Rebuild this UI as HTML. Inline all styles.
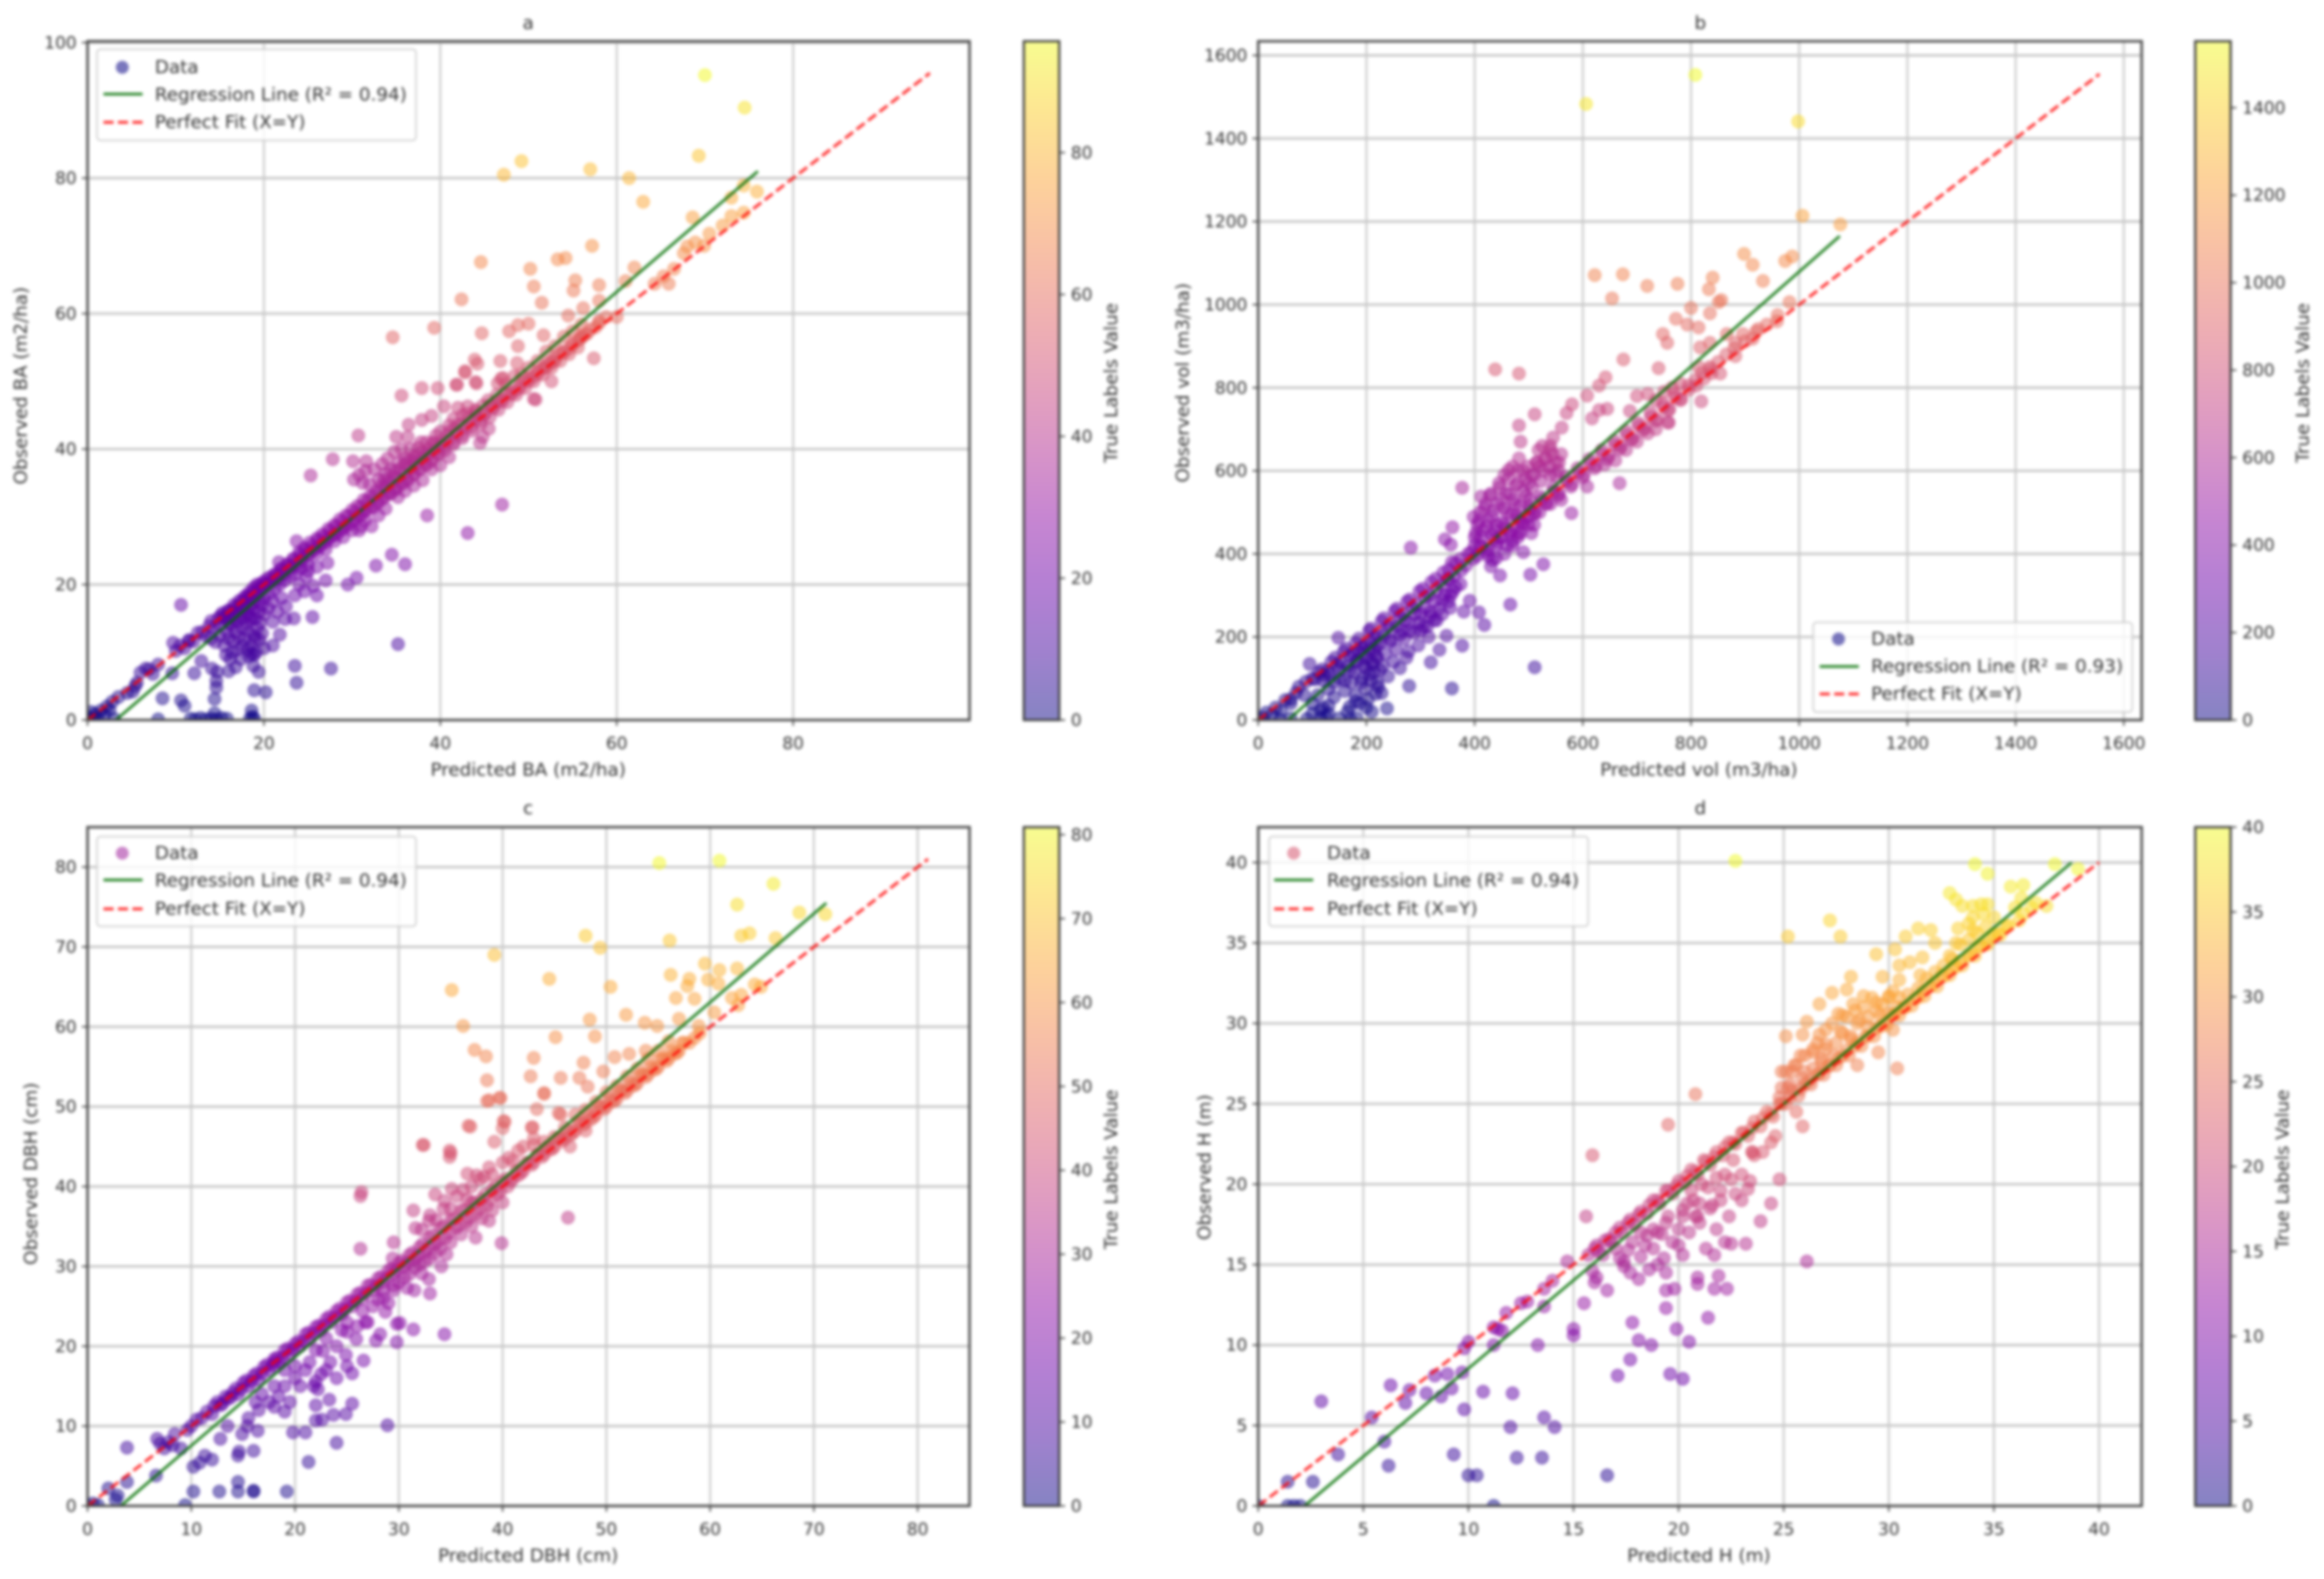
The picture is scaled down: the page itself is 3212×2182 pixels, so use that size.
<!DOCTYPE html>
<html lang="en">
<head>
<meta charset="utf-8">
<title>Predicted vs observed forest metrics</title>
<style>
html,body{margin:0;padding:0;background:#fff;}
#figure{display:block;width:3212px;height:2182px;filter:blur(2.1px);font-family:"DejaVu Sans","Liberation Sans",sans-serif;}
text{font-family:"DejaVu Sans","Liberation Sans",sans-serif;font-size:25.3px;fill:#333;}
text.tick{font-size:23.5px;}
.leg{fill:#fff;fill-opacity:.8;stroke:#ccc;stroke-width:2;}
.reg{stroke:#006f00;stroke-opacity:.85;stroke-width:3.8;fill:none;}
.fit{stroke:#f00;stroke-opacity:.8;stroke-width:4;stroke-dasharray:14 6;fill:none;}
</style>
</head>
<body>
<svg id="figure" xmlns="http://www.w3.org/2000/svg" width="3212" height="2182" viewBox="0 0 3212 2182">
<rect x="0" y="0" width="3212" height="2182" fill="#fff"/>
<defs id="defs"></defs>
<g id="panel-a"></g>
<g id="panel-b"></g>
<g id="panel-c"></g>
<g id="panel-d"></g>

<g text-anchor="middle">
<text x="730" y="40">a</text>
<text x="2350" y="40">b</text>
<text x="730" y="1125">c</text>
<text x="2350" y="1125">d</text>
<text x="730" y="1072">Predicted BA (m2/ha)</text>
<text x="2348" y="1072">Predicted vol (m3/ha)</text>
<text x="730" y="2158">Predicted DBH (cm)</text>
<text x="2348" y="2158">Predicted H (m)</text>
<text transform="translate(37 533) rotate(-90)">Observed BA (m2/ha)</text>
<text transform="translate(1643 529) rotate(-90)">Observed vol (m3/ha)</text>
<text transform="translate(51 1622) rotate(-90)">Observed DBH (cm)</text>
<text transform="translate(1673 1613) rotate(-90)">Observed H (m)</text>
<text transform="translate(1544 529) rotate(-90)">True Labels Value</text>
<text transform="translate(3191 529) rotate(-90)">True Labels Value</text>
<text transform="translate(1544 1616) rotate(-90)">True Labels Value</text>
<text transform="translate(3163 1616) rotate(-90)">True Labels Value</text>
</g>

<g>
<rect class="leg" x="134" y="68" width="441" height="126" rx="5"/>
<circle cx="169" cy="93" r="9" fill="#0d0887" fill-opacity=".55"/>
<text x="214" y="101">Data</text>
<line class="reg" x1="143" x2="197" y1="130" y2="130"/>
<text x="214" y="139">Regression Line (R² = 0.94)</text>
<line class="fit" x1="143" x2="197" y1="169" y2="169"/>
<text x="214" y="177">Perfect Fit (X=Y)</text>
</g>
<g>
<rect class="leg" x="2506" y="860" width="441" height="124" rx="5"/>
<circle cx="2541" cy="883" r="9" fill="#0d0887" fill-opacity=".55"/>
<text x="2586" y="891">Data</text>
<line class="reg" x1="2515" x2="2569" y1="921" y2="921"/>
<text x="2586" y="929">Regression Line (R² = 0.93)</text>
<line class="fit" x1="2515" x2="2569" y1="959" y2="959"/>
<text x="2586" y="967">Perfect Fit (X=Y)</text>
</g>
<g>
<rect class="leg" x="134" y="1156" width="441" height="124" rx="5"/>
<circle cx="169" cy="1179" r="9" fill="#a0229c" fill-opacity=".55"/>
<text x="214" y="1187">Data</text>
<line class="reg" x1="143" x2="197" y1="1216" y2="1216"/>
<text x="214" y="1225">Regression Line (R² = 0.94)</text>
<line class="fit" x1="143" x2="197" y1="1256" y2="1256"/>
<text x="214" y="1264">Perfect Fit (X=Y)</text>
</g>
<g>
<rect class="leg" x="1754" y="1156" width="441" height="124" rx="5"/>
<circle cx="1788" cy="1179" r="9" fill="#d6566f" fill-opacity=".55"/>
<text x="1834" y="1187">Data</text>
<line class="reg" x1="1761" x2="1815" y1="1216" y2="1216"/>
<text x="1834" y="1225">Regression Line (R² = 0.94)</text>
<line class="fit" x1="1761" x2="1815" y1="1256" y2="1256"/>
<text x="1834" y="1264">Perfect Fit (X=Y)</text>
</g>
</svg>

<script>
// ---------- chart data ----------
const xTicksA=[0,20,40,60,80];
const yTicksA=[0,20,40,60,80,100];
const barTicksA=[0,20,40,60,80];
const regressionA=[[3.2,0],[76,81]];
const perfectA=[[0,0],[95.5,95.5]];
const pointsA=[
[0,0],[.3,.4],[.6,.1],[.9,.9],[1.2,.3],[1.5,1.4],[1.9,.8],[2.2,2],[2.5,1.5],[2.8,2.7],[.4,1.2],[3,.2],
[8,.1],[11.7,.2],[12.2,.1],[12.8,.3],[13.4,.1],[14,.2],[14.6,.1],[15.2,.3],[15.8,.2],[18.4,.2],[18.7,.5],[18.6,1.4],[18.9,.2],[14.4,1],
[8.5,3.2],[10.6,2.9],[11,2.1],[14.4,3.1],[18.9,4.4],[20.2,4.1],[14.6,4.8],[23.7,5.5],[23.5,8],[27.6,7.6],[35.2,11.2],[19.4,7.1],[14.6,5.8],[12.1,6.9],[9.6,6.9],[12.9,8.7],[14.1,7.6],[14.7,7.1],[16,7.2],[16.8,7.8],[17.4,9],[18.3,9.4],[18.9,9.6],[10.6,17],[9.7,11.4],[11.5,11.8],[6.6,7.6],[7.4,6.8],[5.6,5.5],[5.1,4.2],[3.5,3.4],[4.5,4],[6,7],[5.4,5],[7,7.5],[8,8.2],
[25.5,15.2],[26,18.4],[22.4,14.9],[23.4,15],[21.8,12.6],[21,11],[23.5,18.4],[27,20.6],[29.5,20],[30.5,21],[32.7,22.8],[34.5,24.4],[36,23],[38.5,30.2],[43.1,27.6],[47,31.8],[27.2,23.2],[24.8,21.2],[23.7,26.4],[21.7,23.3],[25,22],[26,22.6],[24,20],[25.6,19.8],[24.6,19],
[10,10.2],[10.5,11],[11,10.6],[11.5,11.7],[12,11.6],[12.5,12.9],[13,13],[13.4,12.4],[13.8,13.9],[14,14.6],[14.4,13.7],[14.8,15],[15,14.2],[15.3,15.8],[15.6,15],[16,16.2],[16.2,15.2],[16.6,17],[16.9,16],[17.2,17.6],[17.4,16.6],[17.8,18.2],[18,17],[18.3,18.8],[18.5,17.9],[18.8,19.5],[19,18.3],[19.2,20],[19.5,19],[19.8,20.3],[20,19.6],[20.3,20.8],
[14,12],[14.5,11.5],[15,12.5],[15.5,11],[15.8,13],[16,12],[16.3,14],[16.5,11.6],[16.8,13],[17,14.5],[17.2,12.3],[17.5,15],[17.6,13.6],[17.8,12],[18,14.2],[18.2,15.6],[18.3,13],[18.5,11],[18.6,14.8],[18.8,16.4],[18.9,12.5],[19,15],[19.1,10],[19.2,13.6],[19.4,16],[19.5,11.8],[19.6,14.4],[19.7,17],[19.8,12.8],[20,15.6],[20,10.6],[20.5,16.5],[21,14.5],[21,17.5],[21.5,16],[22,18],[22.5,16.8],
[20.8,20.4],[21.2,21.5],[21.5,20.8],[21.9,22.3],[22.2,21.5],[22.6,23],[23,22.4],[23.3,23.8],[23.6,22.8],[24,24.8],[24.2,23.5],[24.6,25.4],[25,24.2],[25.2,26.2],[25.6,25],[26,26.8],[26.3,25.6],[26.6,27.4],[27,26.2],[27.3,28.2],[27.6,27],[28,28.8],[28.3,27.4],[28.6,29.6],[29,28.2],[29.3,30.2],[29.6,28.8],[30,31],[30.3,29.6],[30.6,31.6],[31,30.2],[31.3,32.5],[31.6,31],[32,33],[32.4,31.4],[32.7,33.8],[33,32.2],[33.4,34.6],[33.7,33],[34,35.2],[34.4,33.4],[34.7,36],[35,34.2],[35.3,37],[35.7,35],[36,37.6],[36.3,35.4],[36.6,38.4],[37,36.2],[37.3,39],[37.6,37],[38,39.6],[38.4,37.6],[38.7,40],[39,38.2],[39.3,40.8],[39.7,39.4],[40,41],[40.4,40.4],[41,42.6],[41.5,41],[42,43.6],[42.5,42],[43,45.2],[43.5,43.2],[44,45.8],[44.5,44.2],[45,45],[45.5,43],[44.8,41.8],[45.4,47.2],[46,46],[46.5,47],[47,47],[47.5,48.2],[48,48],[48.5,48.6],[49,49],[49.5,50],[50,50],[50.5,50.6],[51,51],[51.5,51.8],[52,52],[52.5,52.8],[53,53],[53.5,54],[54,54.2],[54.6,54.8],[55,55.4],[55.6,56],[56,56.6],[56.6,57],[57,57.6],[57.6,58],[58,58.6],
[25.3,36.1],[27.8,38.5],[30.1,38.2],[31.6,38.2],[30.7,42],[30.2,35.5],[30.8,36.2],[31.2,35],[31.5,36.8],[32,34.8],[32.5,37],[33,35.5],[33.4,37.8],[33.8,36.4],[34,38.6],[34.4,37],[34.8,39.6],[35,41.8],[35.3,38],[35.6,40],[36.3,41.8],[36.4,43.6],[36,38.6],[36.6,40],[37,39],[37.5,40.2],[37.9,44.3],[38.4,41],[39,44.9],[39.5,42],[40.4,46.3],[41,43.5],[42,46.1],[43.1,46.3],[41.5,44.5],[42.5,45],[44,45.5],[35.6,47.9],[37.9,49],[39.7,49],[41.9,49.5],[44,49.9],[42.8,51.5],[46.9,50.4],[44.5,40.9],[50.8,47.3],
[32.2,28.6],[30.8,28],[33.8,31.2],[35.2,32.9],[33,30.2],[31.5,29.5],[36,33.8],[37,34.6],[38,35.4],[39,37],[40,37.6],[41,38.8],
[70,95.2],[74.5,90.4],[69.3,83.3],[49.2,82.5],[47.2,80.5],[57,81.3],[61.4,80],[63,76.5],[75.9,78],[74.4,78.9],[73,77.1],[68.6,74.2],[74.4,74.9],[73,74.4],[72,73],[70.5,71.8],[68.9,70.5],[69.9,70],[68,69.9],[67.6,68.9],[57.2,70],[54.2,68.2],[53.3,68],[44.6,67.6],[50.2,66.6],[62,66.8],[61,64.8],[66.5,66.6],[65.3,65.5],[64.3,64.4],[65.9,64.4],[55.3,64.9],[55.1,63.4],[50.6,64],[58,64.2],[42.4,62.1],[51.5,61.6],[58,61.9],[56.2,60.8],[54.5,59.7],[60,59.5],[58.8,59.5],[58,58.9],[50,58.5],[48.8,58.3],[47.8,57.4],[39.3,57.9],[44.7,57.1],[51.7,56.8],[34.6,56.5],[56.4,56.9],[55.8,56.3],[48.8,55.2],[57.4,53.4],[43.9,53.2],[46.8,53],[44.2,52.6],[48.7,52.7],[52.6,52.7],[51.8,52],[42.8,51.3],[47.1,50.5],[46.5,49.7],[41.8,49.5],[44.1,49.7],[52.6,50],[50.6,47.4]
];
const bandA=[
[15.1,15.4],[15.5,15.2],[15.9,16.1],[16.3,16],[16.7,16.6],[17.1,16.9],[17.5,17.6],[17.9,17.7],[18.1,18.3],[18.4,18.1],[18.7,18.9],[19.1,19],[19.4,19.8],[19.7,19.5],[20.1,20.3],[20.4,20.1],[20.7,21.1],[21,20.7],[21.4,21.6],[21.7,21.4],[22,22.3],[22.3,22],[22.7,22.9],[23,22.7],[23.4,23.7],[23.7,23.4],[24.1,24.4],[24.4,24],[24.7,25.1],[25.1,24.7],[25.4,25.7],[25.8,25.3],[26.1,26.5],[26.5,26],[26.8,27.1],[27.2,26.7],[27.5,27.9],[27.9,27.4],[28.2,28.6],[28.6,28],[28.9,29.3],[29.3,28.7],[29.6,30.1],[30,29.4],[30.3,30.7],[30.7,30.1],[31,31.5],[31.4,30.8],[31.7,32.3],[32.1,31.4],[32.4,33],[32.8,32],[33.1,33.7],[33.5,32.7],[33.8,34.4],[34.2,33.4],[34.5,35],[34.9,34],[35.2,35.7],[35.6,34.8],[35.9,36.4],[36.3,35.6],[36.6,37.2],[37,36.4],[37.3,37.9],[37.7,37],[38,38.6],[38.4,37.8],[38.7,39.2],[39.1,38.6],[39.4,39.9],[39.8,39.2],[40.1,40.5],[40.5,39.8],[41,41.3],[41.5,40.7],[42,42.3],[42.5,41.6],[43,43.3],[43.6,42.7],[44,44.4],[44.6,43.7],[45,45.3],[45.6,44.7],[46,46.3],[46.6,45.8],[47,47.3],[47.6,46.9],[48,48.3],[48.6,48],[49,49.3],[49.6,49],[50,50.4],[50.6,50],[51,51.4],[51.6,51],[52,52.4],[52.6,52],[53,53.4],[53.6,53],[54,54.4],[54.6,54],[55,55.4],[55.6,55],[56,56.4],
[16,14.2],[16.6,14.8],[17.2,15.6],[17.7,16.2],[18.3,16.6],[18.8,17.2],[19.4,17.6],[20,18],[20.6,18.6],[21.2,19.4],[21.8,20],[22.4,20.6],[23,21.2],[23.6,21.6],[24.2,22.4],[25,23],[26,24.6],[27,25.2],[28,26.4],[29,27],[30,28],[31,28.6],[17.6,11],[18.2,10.4],[18.6,9.8],[18.8,8],[19,12],[18.4,15.2],[16.4,10],[15.7,9.6],[17,10.4],[16.2,9],
[33.6,35.5],[34.8,36.8],[36,38],[37,38.2],[37.8,41],[38.4,39.2],[39.2,41],[40,42.6],[40.8,42],[41.6,43],[42.4,43.6],[43.2,44.6],[44,45],[44.8,46.4],[45.6,46.5],[46.4,48],[47.4,49.6],[48.4,50.8],[49.2,51],[50,52],[51,53],[52,54.4],[53,55.2],[54,56.6],[55,57.4],[56,58.4]
];

const xTicksB=[0,200,400,600,800,1000,1200,1400,1600];
const yTicksB=[0,200,400,600,800,1000,1200,1400,1600];
const barTicksB=[0,200,400,600,800,1000,1200,1400];
const regressionB=[[55,0],[1075,1165]];
const perfectB=[[0,0],[1555,1555]];
const pointsB=[
[0,0],[8,6],[15,18],[25,12],[32,30],[42,22],[50,48],[60,40],[70,66],[85,60],[95,135],[40,2],[60,4],[90,3],[115,5],[125,8],[150,4],[170,2],[182,5],[100,40],[115,24],[130,35],[110,60],[140,55],[169,32],[217,63],[238,28],[279,82],[358,76],[511,127],[319,139],[335,169],[377,179],[348,203],[274,150],[148,198],[130,110],
[100,100],[112,115],[122,108],[135,140],[146,132],[158,165],[170,155],[180,185],[192,175],[205,215],[215,200],[228,238],[240,225],[252,262],[262,250],[275,285],[285,270],[298,310],[308,296],[320,332],[330,315],[342,355],[352,338],[365,378],[375,360],[388,400],[398,388],[410,420],[420,405],[432,445],[442,428],[455,470],[465,450],[478,492],[488,472],[500,515],[510,496],[522,538],[532,520],[545,560],[555,540],[568,585],[578,562],[590,606],[600,584],[612,628],[622,606],[635,650],[645,628],[658,672],[668,652],[680,695],[690,675],[702,715],[712,698],[725,740],[735,720],[748,762],[758,745],[770,785],[780,770],[795,805],[808,818],[820,835],[835,850],[850,862],[865,880],[880,895],[900,912],[920,935],[940,952],[960,975],
[150,100],[160,70],[165,130],[172,90],[178,115],[180,60],[185,145],[188,40],[192,100],[195,160],[198,75],[200,125],[203,50],[205,170],[208,95],[210,140],[214,115],[218,155],[222,80],[225,185],[230,130],[235,160],[240,105],[245,190],[250,140],[255,170],[262,125],[270,195],[278,165],[288,210],[296,180],[305,225],[315,200],[325,240],[318,260],[300,255],[280,235],[265,215],[358,380],[350,340],[365,320],[340,290],[374,327],[356,301],[391,287],[380,261],[408,259],[418,229],[466,278],[433,385],[447,348],[503,350],[527,375],[490,404],
[282,415],[359,464],[345,435],[356,422],[377,559],[412,538],[398,489],[463,602],[579,498],[668,570],[608,562],
[400,440],[405,470],[410,500],[415,455],[420,520],[425,480],[430,545],[435,505],[440,470],[445,570],[450,530],[455,590],[460,500],[465,545],[470,610],[475,520],[480,570],[485,480],[490,600],[495,540],[500,570],[505,590],[440,420],[425,395],[450,440],[470,430],[480,450],[520,610],[530,630],[540,650],[550,620],[540,590],[560,640],[525,660],[515,620],[545,680],[555,600],[505,450],
[511,736],[482,709],[485,670],[482,630],[540,660],[561,704],[570,739],[580,760],[608,781],[630,805],[642,825],[438,844],[482,834],[645,749],[630,746],[617,726],[687,744],[759,716],[675,868],[740,847],[700,780],[720,785],[735,770],[750,790],[765,800],[780,810],
[808,1553],[606,1483],[998,1441],[1006,1214],[1076,1193],[898,1122],[914,1096],[987,1116],[974,1105],[933,1057],[840,1065],[833,1037],[775,1050],[719,1045],[674,1073],[622,1071],[654,1015],[856,1011],[851,1006],[800,992],[835,979],[982,1006],[772,966],[793,952],[814,945],[959,960],[748,929],[756,908],[924,941],[896,929],[866,929],[914,918],[882,908],[817,897],[835,908],[814,850],[835,844],[854,834],[882,876],[819,767]
];
const bandB=[
[60,50],[75,80],[88,92],[105,98],[118,122],[128,118],[142,150],[152,140],[162,172],[175,160],[186,196],[198,180],[208,220],[220,205],[232,245],[244,230],[256,268],[268,255],[280,290],[292,278],[304,316],[316,300],[328,340],[340,325],[352,362],[362,348],[374,388],[384,372],[394,405],[404,395],[414,418],[424,412],[436,436],[446,440],[458,462],[468,455],[480,484],[490,476],[502,506],[512,500],[524,530],[534,522],[546,550],[556,545],[570,575],[580,568],[592,596],[602,590],[614,618],[624,612],[636,640],[648,635],[660,662],[670,658],[682,686],[692,678],[704,708],[714,702],[726,730],[738,724],[750,754],[760,748],[772,776],[782,772],[796,795],[810,805],[824,822],[838,835],
[220,180],[232,205],[244,195],[256,225],[262,205],[272,240],[280,215],[290,255],[298,235],[308,270],[318,250],[326,285],[334,268],[345,300],[352,285],[360,310],[300,215],[312,225],[330,240],[340,255],[355,270],[200,150],[205,110],[208,185],[212,135],[215,170],[220,90],[220,150],[225,120],[228,65],[195,130],[190,90],[185,165],[180,140],[170,120],[160,95],[150,120],[140,90],[130,75],[120,95],[180,45],[200,30],[210,20],[165,20],[130,15],[100,15],[120,30],
[400,420],[402,450],[408,480],[412,440],[418,510],[422,465],[428,540],[432,490],[438,455],[442,520],[446,560],[450,475],[454,510],[458,545],[462,580],[468,495],[472,530],[476,565],[480,600],[484,515],[490,550],[494,580],[498,610],[502,530],[506,560],[510,590],[514,620],[518,650],[522,575],[528,600],[532,630],[538,610],[544,640],[550,590],[556,620],[480,440],[460,420],[500,490],
[430,370],[440,390],[455,400],[470,420],[485,450],[500,470],[520,500],[540,520],[560,530],[510,470],[640,615],[660,625],[680,650],[700,670],[720,690],[735,700],[757,716]
];

const xTicksC=[0,10,20,30,40,50,60,70,80];
const yTicksC=[0,10,20,30,40,50,60,70,80];
const barTicksC=[0,10,20,30,40,50,60,70,80];
const regressionC=[[3.2,0],[71.2,75.5]];
const perfectC=[[0,0],[81,81]];
const pointsC=[
[0,0],[.5,.3],[1,.1],[2,2.2],[2.7,.8],[2.9,1.3],[3.8,3],[3.8,7.3],[6.7,8.4],[6.6,3.8],[7,7.8],[7.4,7.2],[7.8,8],[8.2,7.6],[8.4,9],[9,7.2],[9.6,9.5],[10,10],[9.4,.1],[10.2,1.8],[12.7,1.8],[14.5,1.8],[14.5,3],[16,1.8],[16,1.9],[19.2,1.8],[10.2,4.9],[11.3,6.3],[12,5.8],[14.5,6.3],[16,6.9],[21.3,5.5],[24,7.9],[28.9,10.1],[10.8,5.4],[14.6,6.8],[12.8,8.4],[13.5,10],[14.9,9],[15.4,10],[16.4,9.4],[19.8,9.2],[21,9.2],[22,10.7],[22.6,10.8],[23.7,11.4],[24.9,11.5],[25.5,12.8],[23.3,13.3],[22,12.6],[18.4,13.7],[19.5,13],[16.2,13],[16.5,12],[18,12.4],[19,11.8],[15.5,11],[20,16],[21.8,15],[22,15.6],[22.2,14.6],[24,16],[25,17.5],[26.6,18.2],[25.5,16.6],[24.9,18.9],[22.7,19.4],[23.4,18],[21.4,18],[19,17],[20,17.5],[18,18],
[34.4,21.5],[31.4,22.1],[29.8,22.8],[28.7,24.3],[29.8,20.5],[27.8,20.7],[28.2,21.5],[30.1,22.9],[26.8,23],[25,21.8],[25.9,20.9],
[10.5,10.8],[11,11],[11.5,11.8],[12,11.5],[12.5,13],[13,12.8],[13.5,13.4],[14,14.2],[14.5,14],[15,15.4],[15.5,15],[16,16.3],[16.5,15.8],[17,17.4],[17.5,17],[18,18.4],[18.5,18],[19,19.5],[19.5,19],[20,20.3],[20.5,20],[21,21.5],[21.5,21],[22,22.4],[22.5,22],[23,23.4],[23.5,23],[24,24.4],[24.5,24],[25,25.5],[25.5,25],[26,26.5],[26.5,26],[27,27.6],[27.5,27],[28,28.5],[28.5,28],[29,29.5],[29.5,29.2],[30,30.4],[30.5,30],[31,31.4],[31.5,30.8],[32,32.4],[32.5,31.8],[33,33.6],[33.5,32.8],[34,34.8],[34.5,33.6],[35,35.8],[35.5,34.8],[36,37],[36.5,35.6],[37,38],[37.5,36.6],[38,38.4],[38.5,37.6],[39,39.6],[39.5,39],[40,40.6],[40.5,40],[41,41],[41.5,41.4],[42,42],[42.5,43],[43,43],[43.5,44],[44,44],[44.5,44.6],[45,45],[45.5,46],[46,46],[46.5,46.4],[47,47],[47.5,48],[48,48],[48.5,48.4],[49,49],[49.5,50],[50,50],[50.5,50.6],[51,51],[51.5,52],[52,52],[52.5,52.6],[53,53],[53.5,54],[54,54],[54.5,54.6],[55,55],[55.5,56],[56,56],[56.5,56.6],[57,57],[57.5,58],[58,58],[58.5,58.6],[59,59.2],
[30.8,27.3],[32.9,28.4],[32.2,29.1],[34.1,30],[34.6,31.5],[38.7,35.7],[33,26.6],[31.5,27],[28.5,27],[29.5,27],[37.4,33.6],[39.9,32.9],[26.3,32.2],[29.5,33],[29.4,31],[31.6,34.8],[31.4,37],[33.5,39],[35.1,39.7],[32.9,35.7],[34.3,37.2],[36.6,38.4],[36.6,41.6],[37.8,40.9],[38.7,42.4],[40.6,43.6],[41.5,44.5],[39.2,45.6],[42.9,47.4],[40.2,48.1],[36.9,47.5],[32.3,45.2],[35,44.2],[38.7,50.8],[39.8,51.1],[44,51.7],[43.3,49.7],[45.4,49.2],[26.4,39.3],[26.3,38.8],[46.3,36.1],[48,47],[46.5,45],
[55.1,80.5],[60.9,80.8],[66.1,77.9],[62.6,75.3],[68.6,74.3],[71.1,74.1],[48,71.4],[49.4,69.9],[39.2,69],[56.1,70.8],[63,71.4],[63.8,71.7],[66.3,71.1],[35.1,64.6],[44.5,66],[50.4,65],[59.5,67.9],[60.9,67.1],[62.6,67.3],[56.2,66.5],[58,66],[57.8,65.1],[59.8,65.9],[60.8,65.4],[56.7,63.6],[58.5,63.5],[64.3,65.3],[64.9,65],[62.1,63.6],[63,64],[62.7,62.7],[60.4,61.8],[48.4,60.9],[51.9,61.5],[53.7,60.5],[54.9,60.1],[57,61],[36.2,60.1],[48.9,58.8],[45.1,58.7],[58.9,60.1],[37.3,57.1],[38.4,56.3],[43,56.1],[47.8,55.5],[50.8,56.2],[52.2,56.6],[53.8,57],[38.5,53.3],[42.7,53.8],[45.6,53.6],[47.4,53.6],[49.7,54.4],[48.2,52.5],[44,51.6],[38.5,50.7],[39.7,51.1],[45.6,49],[40.1,48.2],[40,47.3],[36.7,47.6],[42.8,47.4],[32.4,45.2],[34.9,44.5],[34.9,43.7],[43,46]
];
const bandC=[
[12.2,12.5],[12.8,12.6],[13.3,13.7],[13.8,13.6],[14.3,14.7],[14.8,14.6],[15.3,15.7],[15.8,15.6],[16.3,16.6],[16.8,16.6],[17.3,17.7],[17.8,17.6],[18.3,18.6],[18.8,18.6],[19.3,19.7],[19.8,19.6],[20.3,20.6],[20.8,20.6],[21.3,21.7],[21.8,21.6],[22.3,22.6],[22.8,22.6],[23.3,23.7],[23.8,23.6],[24.3,24.7],[24.8,24.6],[25.3,25.7],[25.8,25.6],[26.3,26.7],[26.8,26.6],[27.3,27.7],[27.8,27.5],[28.3,28.7],[28.8,28.5],[29.3,29.7],[29.8,29.5],[30.3,30.7],[30.8,30.4],[31.3,31.7],[31.8,31.3],[32.3,32.8],[32.8,32.2],[33.3,33.9],[33.8,33.1],[34.3,35],[34.8,34.2],[35.3,36],[35.8,35.1],[36.3,37],[36.8,36.1],[37.3,38],[37.8,37.2],[38.3,39],[38.8,38.4],[39.3,40],[39.8,39.4],[40.3,41],[40.8,40.6],[41.3,42],[41.8,41.7],[42.3,43],[42.8,42.7],[43.3,44],[43.8,43.7],[44.3,45],[44.8,44.7],[45.3,46],[45.8,45.7],[46.3,47],[46.8,46.7],[47.3,48],[47.8,47.7],[48.3,49],[48.8,48.7],[49.3,50],[49.8,49.7],[50.3,51],[50.8,50.7],[51.3,52],[51.8,51.7],[52.3,53],[52.8,52.7],[53.3,54],[53.8,53.7],[54.3,55],[54.8,54.7],[55.3,56],[55.8,55.7],[56.3,57],[56.8,56.7],[57.3,58],
[22,19.5],[23,21],[24,20],[24.5,22],[25,23],[26,22.5],[26.5,24.4],[27,23],[27.5,25],[28,25.8],[28.5,26],[29,25.4],[29.5,27.6],[30,28],[30.5,28.6],[31,29],[31.5,29.8],[32,30.2],[32.5,30.6],[33,31],[33.5,31.6],[34,32.2],[35,33],[36,34],[37,35],[38,36],[39,37],[40,38],[21,17],[20.5,15],[23,17],[22.5,16.5],[18,15],[17.5,13],[16.8,14],[19,15],
[32.2,34.6],[33,36.4],[33.6,35.8],[34.4,38.2],[35,37.2],[35.6,38.8],[36.2,39.6],[37,40],[37.5,41.4],[38.2,41.2],[39,41.5],[40,43],[41,43.2],[42,45],[43,45.2],[44,45.6],[45,46.2],[46,47.4],[47,49],[48,49.6],[49,50.6],[50,51.8],[51,52.6],[52,53.8],[53,54.8],[54,56],[55,57],[56,58.2]
];

const xTicksD=[0,5,10,15,20,25,30,35,40];
const yTicksD=[0,5,10,15,20,25,30,35,40];
const barTicksD=[0,5,10,15,20,25,30,35,40];
const regressionD=[[2.2,0],[38.7,40]];
const perfectD=[[0,0],[40,40]];
const pointsD=[
[0,0],[1.4,0],[1.7,0],[2,0],[1.4,1.5],[2.6,1.5],[3.8,3.2],[3,6.5],[5.4,5.5],[6,4],[6.2,2.5],[6.3,7.5],[7,6.4],[7.2,7.2],[8,7],[8.7,6.8],[9.2,7.3],[9.7,8.3],[9,8.2],[8.4,8.1],[9.8,6],[10.7,7.1],[12.1,7],[12,4.9],[13.6,5.5],[14.1,4.9],[12.3,3],[13.5,3],[16.6,1.9],[10,1.9],[10.4,1.9],[9.3,3.2],[11.2,0],
[11.2,10],[9.8,9.8],[10,10.2],[11.4,11],[11.2,11.1],[11.6,10.9],[11.8,12],[12.5,12.6],[12.8,12.7],[13.6,12.4],[14,14],[13.6,13.5],[14.7,15.2],[13.3,10],[15,11],[15,10.6],[15.5,12.6],
[17.4,14.9],[17.7,14.5],[18.1,14.1],[16.6,13.4],[16,13.9],[15.9,14.6],[16.1,14.2],[19.4,14.5],[19.8,13.5],[19.4,13.4],[19.4,12.3],[21.4,11.7],[19.9,11],[20.5,10.2],[18.7,10],[18.1,10.3],[17.8,11.4],[17.7,9.1],[17.1,8.1],[19.6,8.2],[20.2,7.9],[21.9,14.3],[22.3,13.5],[21.7,13.5],[20.9,14.2],[20.9,13.8],
[15.7,15.6],[16,16],[16.2,15.8],[16.5,16.5],[16.8,16.4],[17,17],[17.3,17],[17.6,17.6],[17.9,17.5],[18.2,18.3],[18.5,18.2],[18.8,19],[19.1,18.8],[19.4,19.6],[19.7,19.4],[20,20.2],[20.3,20.1],[20.6,20.9],[20.9,20.6],[21.2,21.5],[21.5,21.2],[21.8,22],[22.1,21.8],[22.4,22.6],[22.7,22.5],[23,23.2],[23.3,23],[23.6,23.9],[23.9,23.6],[24.2,24.5],[24.5,24.2],[24.8,25],[25.1,25],[25.4,25.8],[25.7,25.5],[26,26.2],[26.3,26.2],[26.6,26.8],[26.9,26.8],[27.2,27.4],[27.5,27.4],[27.8,28],[28.1,28],[28.4,28.6],[28.7,28.6],[29,29.2],[29.3,29.2],[29.6,29.8],[29.9,29.9],[30.2,30.5],[30.5,30.5],[30.8,31],[31.1,31.1],[31.4,31.6],[31.7,31.7],[32,32.3],[32.3,32.3],[32.6,32.9],[32.9,33],[33.2,33.5],[33.5,33.6],[33.8,34.2],[34.1,34.2],[34.4,34.8],[34.7,34.9],[35,35.5],[35.3,35.5],[35.6,36],[36.2,36.4],[36.8,37.2],
[17,16],[17.2,15.4],[17.8,16.4],[18.2,15.5],[18.5,16.8],[18.8,16],[19,17],[19.3,15.4],[19.5,18],[19.7,16.4],[20,17.2],[20.2,15.6],[20.2,18.4],[20.5,17],[20.7,19],[21,17.6],[21.3,16],[21.5,18.5],[21.8,17.2],[22,19],[22.2,16.4],[22.4,18],[22.7,19.4],[23,19],[23.4,20.2],[23.5,22],[23.6,21.8],[24,22],[24.4,22.6],[24.6,23],[22.5,16.3],[23.2,16.3],[23.9,17.7],[24.4,18.8],[24.8,20.3],[21.7,15.6],[20.8,18],[19,15],[18.6,14.7],
[15.9,21.8],[19.5,23.7],[20.8,25.6],[25.9,23.6],[25.6,24.5],[15.6,18],[26.1,15.2],[22.7,40.1],[25.2,35.4],[27.2,36.4],[27.7,35.4],
[24.9,26],[25.1,27],[25.3,26.2],[25.6,27.4],[25.8,28],[26,27],[25.1,29.2],[25.9,29.3],[26.1,30.1],[26.4,28.2],[26.7,29.3],[26.8,27.6],[27,29.6],[27,28.4],[27.3,30],[27.5,28.8],[27.6,30.6],[27.8,29.4],[28,30.4],[28.2,29],[28.3,31.2],[28.5,30],[28.8,31],[29,30.4],[29.2,31.6],[29.4,30.8],[29.7,31.2],[30,31.6],[30.2,32],[30.5,32.7],[26.7,31.2],[27.3,31.9],[28,32.1],[28.2,32.9],[29.7,32.9],[29.4,34.3],[30.3,34.6],[30.5,33.6],[31,33.8],[31.6,34.1],[31.5,33],[30.8,35.4],[31.4,35.9],[32,35.8],[32.2,35],[32.9,34.2],[33.3,35.9],[33.8,36.2],[34,35.8],[34.5,36.8],[33.5,37.3],[34,37.3],[34.7,37.4],[33.2,37.7],[32.9,38.1],[34.1,39.9],[34.7,39.3],[37.9,39.9],[39,39.6],[35.8,38.5],[36.4,38.6],[36.3,37.8],[37.5,37.3],[36,37.2],
[30.4,27.2],[29.5,28.2],[28.5,27.4],[30.2,29.6]
];
const bandD=[
[16.1,16.2],[16.7,16.6],[17.2,17.3],[17.7,17.8],[18.1,18.1],[18.6,18.7],[19,19],[19.5,19.6],[19.9,19.9],[20.4,20.5],[20.8,20.8],[21.3,21.4],[21.7,21.7],[22.2,22.3],[22.6,22.6],[23.1,23.2],[23.5,23.5],[24,24.1],[24.4,24.4],[24.9,25],[25.3,25.4],[25.8,25.9],[26.2,26.4],[26.7,26.9],[27.1,27.3],[27.6,27.8],[28,28.3],[28.5,28.8],[28.9,29.2],[29.4,29.7],[29.8,30.1],[30.3,30.6],[30.7,31],[31.2,31.5],[31.6,32],[32.1,32.5],[32.5,33],[33,33.4],[33.4,33.9],[33.9,34.3],[34.3,34.8],[34.8,35.2],[35.2,35.6],[35.7,36.1],[36.4,36.8],[37,37.5],
[24.8,25.4],[25.2,26],[25.9,26.6],[26.4,27.2],[24.9,27],[25.5,27.4],[26.4,28.4],[26.8,27.8],[27,28.7],[27.4,28],[27.7,29.5],[27.8,30.5],[28.2,29.2],[28.4,30.8],[28.8,31.7],[29.4,31.3],[30,31.7],[30.5,31.6],[28.6,30.2],[29,29.8],[29.6,30.5],[30,30.6],[30.4,31],[30.9,31.8],[31.4,32.2],[31.8,32.8],[32.2,33.2],[32.6,33.6],[33,34],[33.4,34.9],[33.8,35.2],[34.2,35.6],[34.6,36],[35,36.6],[33.2,35],[34,36.6],[34.4,37.4],[26,28],[25.4,27],[26.6,28.8],
[17.6,15.9],[18.4,16.2],[19.2,16.9],[20,16.2],[20.4,18.8],[20.9,18],[21.1,20],[21.6,18.7],[22,19.6],[22.5,20.3],[22.6,21.5],[23,20.6],[23.3,19.7],[23.5,22],[22.2,20.6],[21.8,20.4],[21.4,19.8],[20.6,19.6],[18.2,17],[19.4,17.6],[20.2,18],[21,18.8],[16.4,15.6],[17.4,15.2],[18.8,17.2]
];

// ---------- layout ----------
const NS='http://www.w3.org/2000/svg';
const plasmaStops=[[13,8,135],[65,4,157],[106,0,168],[143,13,164],[177,42,144],[204,71,120],[225,100,98],[242,132,75],[252,166,54],[252,206,37],[240,249,33]];
function plasma(t){
  t=Math.max(0,Math.min(1,t));
  const p=t*(plasmaStops.length-1),i=Math.min(Math.floor(p),plasmaStops.length-2),f=p-i;
  const a=plasmaStops[i],b=plasmaStops[i+1];
  return 'rgb('+[0,1,2].map(k=>Math.round(a[k]+(b[k]-a[k])*f)).join(',')+')';
}
function add(parent,tag,attrs){
  const el=document.createElementNS(NS,tag);
  for(const k in attrs){el.setAttribute(k,attrs[k]);}
  parent.appendChild(el);
  return el;
}
const defs=document.getElementById('defs');
const grad=add(defs,'linearGradient',{id:'plasma-gradient',x1:0,y1:1,x2:0,y2:0});
for(let i=0;i<=20;i++){add(grad,'stop',{offset:i/20,'stop-color':plasma(i/20),'stop-opacity':.5});}

const panels=[
 {id:'a',points:pointsA.concat(bandA),reg:regressionA,fit:perfectA,xt:xTicksA,yt:yTicksA,bt:barTicksA,L:121,R:1340,T:57,B:995,xMax:100,yMax:100.2,vMax:95.7,cb:1415},
 {id:'b',points:pointsB.concat(bandB),reg:regressionB,fit:perfectB,xt:xTicksB,yt:yTicksB,bt:barTicksB,L:1739,R:2960,T:57,B:995,xMax:1633,yMax:1634,vMax:1552,cb:3034},
 {id:'c',points:pointsC.concat(bandC),reg:regressionC,fit:perfectC,xt:xTicksC,yt:yTicksC,bt:barTicksC,L:121,R:1340,T:1143,B:2081,xMax:85,yMax:85,vMax:80.9,cb:1415},
 {id:'d',points:pointsD.concat(bandD),reg:regressionD,fit:perfectD,xt:xTicksD,yt:yTicksD,bt:barTicksD,L:1739,R:2960,T:1143,B:2081,xMax:42.03,yMax:42.2,vMax:40,cb:3034}
];

panels.forEach(function(p){
  const g=document.getElementById('panel-'+p.id);
  const sx=v=>p.L+(p.R-p.L)*v/p.xMax;
  const sy=v=>p.B-(p.B-p.T)*v/p.yMax;
  const clip=add(defs,'clipPath',{id:'clip-'+p.id});
  add(clip,'rect',{x:p.L,y:p.T,width:p.R-p.L,height:p.B-p.T});

  p.yt.forEach(function(v){
    const gl=add(g,'line',{x1:p.L,x2:p.R,y1:sy(v),y2:sy(v),stroke:'#c4c4c4','stroke-width':3.2});
    
    
    const tk=add(g,'line',{x1:p.L-8,x2:p.L,y1:sy(v),y2:sy(v),stroke:'#444','stroke-width':2});
    
    
    const t=add(g,'text',{x:p.L-15,y:sy(v)+8,'text-anchor':'end',class:'tick'});
    t.textContent=v;
    
    
  });
  p.xt.forEach(function(v){
    const gl=add(g,'line',{x1:sx(v),x2:sx(v),y1:p.T,y2:p.B,stroke:'#c8c8c8','stroke-width':2.6});
    
    
    const tk=add(g,'line',{x1:sx(v),x2:sx(v),y1:p.B,y2:p.B+8,stroke:'#444','stroke-width':2});
    
    
    const t=add(g,'text',{x:sx(v),y:p.B+40,'text-anchor':'middle',class:'tick'});
    t.textContent=v;
    
    
  });

  const marks=add(g,'g',{'clip-path':'url(#clip-'+p.id+')'});
  
  
  p.points.forEach(function(pt){
    const col=plasma(pt[1]/p.vMax);
    const c=add(marks,'circle',{cx:sx(pt[0]),cy:sy(pt[1]),r:8.6,fill:col,'fill-opacity':.5,stroke:col,'stroke-opacity':.5,'stroke-width':1.6});
    
    
  });

  const rl=add(g,'line',{x1:sx(p.reg[0][0]),y1:sy(p.reg[0][1]),x2:sx(p.reg[1][0]),y2:sy(p.reg[1][1]),class:'reg'});
  
  
  const fl=add(g,'line',{x1:sx(p.fit[0][0]),y1:sy(p.fit[0][1]),x2:sx(p.fit[1][0]),y2:sy(p.fit[1][1]),class:'fit'});
  
  

  const frame=add(g,'rect',{x:p.L,y:p.T,width:p.R-p.L,height:p.B-p.T,fill:'none',stroke:'#4a4a4a','stroke-width':3.4});
  
  

  const cw=49;
  const bar=add(g,'rect',{x:p.cb,y:p.T,width:cw,height:p.B-p.T,fill:'url(#plasma-gradient)',stroke:'#3a3a3a','stroke-width':3});
  
  
  p.bt.forEach(function(v){
    const y=p.B-(p.B-p.T)*v/p.vMax;
    const tk=add(g,'line',{x1:p.cb+cw,x2:p.cb+cw+8,y1:y,y2:y,stroke:'#444','stroke-width':2});
    
    
    const t=add(g,'text',{x:p.cb+cw+16,y:y+8,class:'tick'});
    t.textContent=v;
    
    
  });
});
</script>
</body>
</html>
